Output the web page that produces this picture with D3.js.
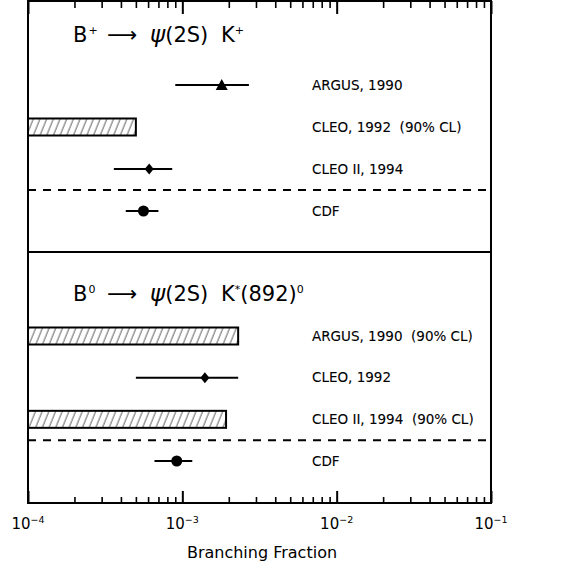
<!DOCTYPE html>
<html>
<head>
<meta charset="utf-8">
<script src="https://cdnjs.cloudflare.com/ajax/libs/d3/7.8.5/d3.min.js"></script>
<style>
  body { margin: 0; background: #fff; }
  text { font-family: "DejaVu Sans", sans-serif; fill: #000; white-space: pre; }
</style>
</head>
<body>
<script>
const upperLabels = ["ARGUS, 1990", "CLEO, 1992  (90% CL)", "CLEO II, 1994", "CDF"];
const upperKind   = ["point", "limit", "point", "point"];
const upperMarker = ["triangle", null, "diamond", "circle"];
const upperValue  = [1.8e-3, 5.0e-4, 6.1e-4, 5.6e-4];
const upperLow    = [0.9e-3, null, 3.6e-4, 4.3e-4];
const upperHigh   = [2.7e-3, null, 8.6e-4, 7.0e-4];

const lowerLabels = ["ARGUS, 1990  (90% CL)", "CLEO, 1992", "CLEO II, 1994  (90% CL)", "CDF"];
const lowerKind   = ["limit", "point", "limit", "point"];
const lowerMarker = [null, "diamond", null, "circle"];
const lowerValue  = [2.3e-3, 1.4e-3, 1.92e-3, 9.2e-4];
const lowerLow    = [null, 5.0e-4, null, 6.6e-4];
const lowerHigh   = [null, 2.3e-3, null, 1.16e-3];

const decades = [-4, -3, -2, -1];

const w = 564, h = 574;
const mLeft = 28, mRight = 491, mTop = 1, mBottom = 503, mMid = 252;

const svg = d3.select("body").append("svg")
    .attr("width", w)
    .attr("height", h);

svg.append("rect").attr("width", w).attr("height", h).attr("fill", "#fff");

// hatching: thin "/" lines, rotated vertical strokes
const defs = svg.append("defs");
const hatch = defs.append("pattern")
    .attr("id", "hatch")
    .attr("patternUnits", "userSpaceOnUse")
    .attr("width", 6.2)
    .attr("height", 10)
    .attr("patternTransform", "rotate(22)");
hatch.append("rect").attr("width", 6.2).attr("height", 10).attr("fill", "#fff");
hatch.append("line")
    .attr("x1", 1).attr("y1", 0).attr("x2", 1).attr("y2", 10)
    .attr("stroke", "#333").attr("stroke-width", 0.8);

const xScale = d3.scaleLog()
    .domain([1e-4, 1e-1])
    .range([mLeft, mRight]);

const isMajor = v => Math.abs(Math.log10(v) - Math.round(Math.log10(v))) < 1e-6;

// bottom axis, ticks pointing up
const xAxisBottom = d3.axisBottom(xScale).tickSize(-6).tickFormat("");
const gb = svg.append("g")
    .attr("transform", "translate(0," + mBottom + ")")
    .call(xAxisBottom);
gb.select(".domain").remove();
gb.selectAll(".tick line")
    .attr("stroke", "#000")
    .attr("stroke-width", d => isMajor(d) ? 2 : 1.6)
    .attr("y2", d => isMajor(d) ? -12 : -6);

// top axis, ticks pointing down
const xAxisTop = d3.axisTop(xScale).tickSize(-6).tickFormat("");
const gt = svg.append("g")
    .attr("transform", "translate(0," + mTop + ")")
    .call(xAxisTop);
gt.select(".domain").remove();
gt.selectAll(".tick line")
    .attr("stroke", "#000")
    .attr("stroke-width", d => isMajor(d) ? 2 : 1.6)
    .attr("y2", d => isMajor(d) ? 13 : 7);

// tick labels 10^n
const lab = svg.append("g").selectAll("text")
    .data(decades)
    .enter()
    .append("text")
    .attr("x", d => xScale(Math.pow(10, d)))
    .attr("y", 529)
    .attr("text-anchor", "middle")
    .style("font-size", "15px");
lab.append("tspan").text("10");
lab.append("tspan")
    .attr("dy", -6)
    .style("font-size", "9.5px")
    .text(d => "\u2212" + Math.abs(d));

svg.append("text")
    .attr("x", 262)
    .attr("y", 558)
    .attr("text-anchor", "middle")
    .style("font-size", "16px")
    .text("Branching Fraction");

// panels
function drawPanel(labels, kinds, markers, values, lows, highs, y0, y1) {
    const yScale = d3.scalePoint().domain(labels).range([y0, y1]);
    const g = svg.append("g");

    // dashed separator between last experiment and CDF
    const yd = (yScale(labels[2]) + yScale(labels[3])) / 2;
    g.append("line")
        .attr("x1", mLeft).attr("x2", mRight)
        .attr("y1", yd).attr("y2", yd)
        .attr("stroke", "#000")
        .attr("stroke-width", 2)
        .attr("stroke-dasharray", "8,7");

    labels.forEach((lbl, i) => {
        const y = yScale(lbl);
        if (kinds[i] === "limit") {
            g.append("rect")
                .attr("x", xScale(1e-4))
                .attr("y", y - 8.5)
                .attr("width", xScale(values[i]) - xScale(1e-4))
                .attr("height", 17)
                .attr("fill", "url(#hatch)")
                .attr("stroke", "#000")
                .attr("stroke-width", 2);
        } else {
            g.append("line")
                .attr("x1", xScale(lows[i])).attr("x2", xScale(highs[i]))
                .attr("y1", y).attr("y2", y)
                .attr("stroke", "#000")
                .attr("stroke-width", 2);
            const cx = xScale(values[i]);
            if (markers[i] === "circle") {
                g.append("circle").attr("cx", cx).attr("cy", y).attr("r", 5.5).attr("fill", "#000");
            } else if (markers[i] === "diamond") {
                g.append("path")
                    .attr("d", `M${cx},${y - 5.5}L${cx + 4.5},${y}L${cx},${y + 5.5}L${cx - 4.5},${y}Z`)
                    .attr("fill", "#000");
            } else if (markers[i] === "triangle") {
                g.append("path")
                    .attr("d", `M${cx},${y - 6}L${cx + 6},${y + 5}L${cx - 6},${y + 5}Z`)
                    .attr("fill", "#000");
            }
        }
        g.append("text")
            .attr("x", 312)
            .attr("y", y + 4.5)
            .style("font-size", "13.5px")
            .attr("stroke", "#000")
            .attr("stroke-width", 0.1)
            .text(lbl);
    });
}

drawPanel(upperLabels, upperKind, upperMarker, upperValue, upperLow, upperHigh, 85, 211);
drawPanel(lowerLabels, lowerKind, lowerMarker, lowerValue, lowerLow, lowerHigh, 336, 461);

// panel titles
function title(y, supB, tail) {
    const t = svg.append("text").attr("y", y).style("font-size", "21px");
    t.append("tspan").attr("x", 73).text("B");
    t.append("tspan").attr("x", 88.5).attr("dy", -8).style("font-size", "11px").text(supB);
    t.append("tspan").attr("x", 107).attr("dy", 8).text("\u27f6");
    t.append("tspan").attr("x", 150).style("font-style", "italic").style("font-size", "23px").text("\u03c8");
    t.append("tspan").text("(2S)");
    t.append("tspan").attr("x", 221).text("K");
    tail(t);
}
title(42, "+", t => {
    t.append("tspan").attr("dy", -8).style("font-size", "11px").text("+");
});
title(301, "0", t => {
    t.append("tspan").attr("dy", -8).style("font-size", "11px").text("*");
    t.append("tspan").attr("dy", 8).text("(892)");
    t.append("tspan").attr("dy", -8).style("font-size", "11px").text("0");
});

// frame
svg.append("rect")
    .attr("x", mLeft).attr("y", mTop)
    .attr("width", mRight - mLeft).attr("height", mBottom - mTop)
    .attr("fill", "none")
    .attr("stroke", "#000")
    .attr("stroke-width", 2);
svg.append("line")
    .attr("x1", mLeft).attr("x2", mRight)
    .attr("y1", mMid).attr("y2", mMid)
    .attr("stroke", "#000")
    .attr("stroke-width", 2);
</script>
</body>
</html>
